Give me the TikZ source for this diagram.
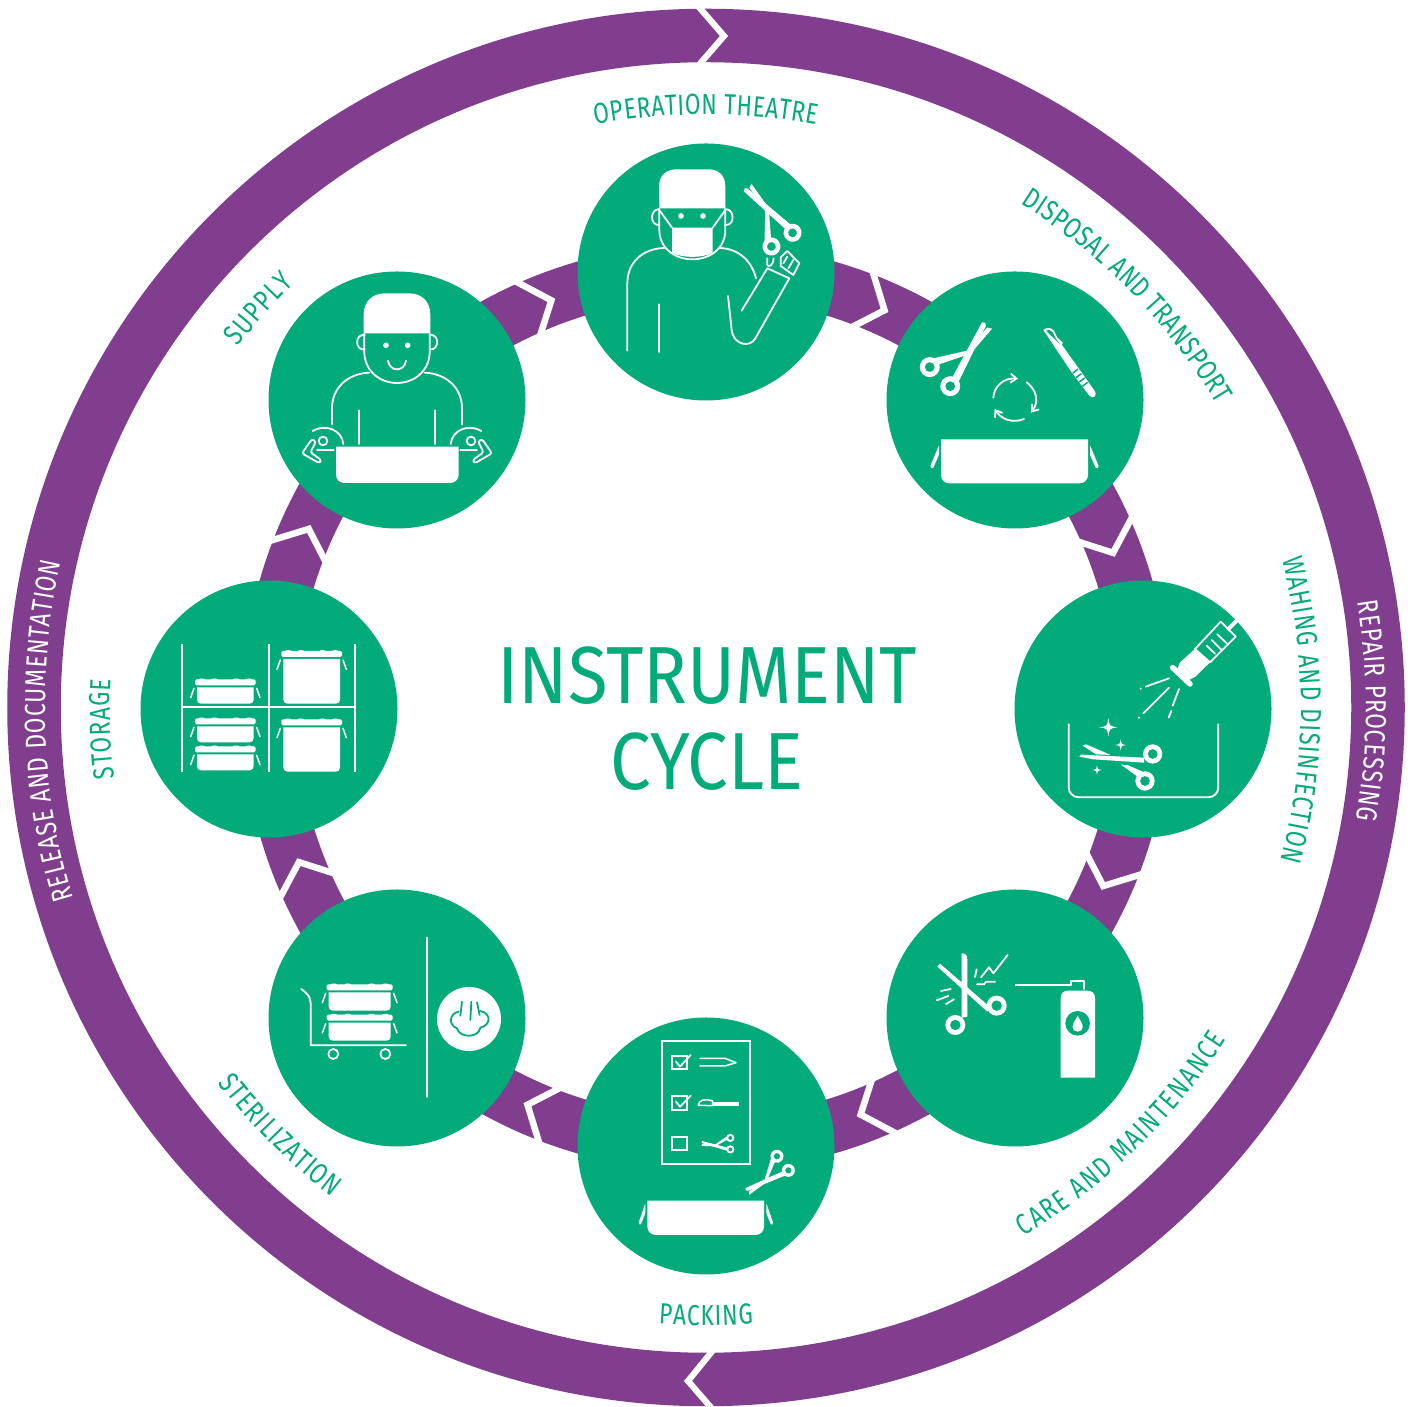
\documentclass[tikz,border=0pt]{standalone}
\usepackage{fontspec}
\usetikzlibrary{decorations.text,arrows.meta}
\newfontfamily\ringfont[FakeStretch=.78]{Fira Sans}
\newfontfamily\titlefont[FakeStretch=.895]{Fira Sans}
\definecolor{cyclegreen}{HTML}{03AA7A}
\definecolor{cyclepurple}{HTML}{813E8F}
\tikzset{
  disc/.style={circle,fill=cyclegreen,minimum size=257pt,inner sep=0pt},
  wl/.style={draw=white,line width=1.8pt,line cap=round,line join=round},
  icon/.style 2 args={shift={(#1,1407-#2)},x=.33333pt,y=-.33333pt},
}
% ring text: clockwise angles from the top
\newcommand\ringtext[5]{%
  \pgfmathsetmacro\ra{90-#1}\pgfmathsetmacro\rd{#1-#2}%
  \path[decorate,decoration={text along path,text color=#4,text align={fit to path},
     text={|\ringfont\fontsize{29pt}{29pt}\selectfont|#5}}]
     (706,699.5) ++(\ra:#3) arc[start angle=\ra,delta angle=\rd,radius=#3];}
% scissors: x y angle scale flip
\newcommand\scis[5]{%
  \begin{scope}[shift={(#1,#2)},rotate=#3,scale=#4,yscale=#5]
    \fill[white,even odd rule] (0,42) circle (30) (0,42) circle (15) (0,-42) circle (30) (0,-42) circle (15);
    \fill[white] (18,-54) -- (18,-30) -- (205,19) -- (211,11) -- (205,3) -- cycle;
    \fill[white] (24,54) -- (20,30) -- (105,-16) -- (112,-6) -- cycle;
    \fill[white] (118,-20) -- (212,-16) -- (204,-3) -- (145,-6) -- cycle;
  \end{scope}}
% container: xc halfwidth ytop ybottom
\newcommand\cont[4]{%
  \fill[white,rounded corners=1.5pt] ({#1-#2},{#3}) rectangle ({#1+#2},{#3+18});
  \foreach \bx in {-.78,-.36,.36,.78}{\fill[white] ({#1+\bx*#2},{#3+1}) ellipse (10 and 3.5);}
  \fill[white] ({#1-#2+6},{#3+24}) -- ({#1+#2-6},{#3+24}) -- ({#1+#2-6},{#4-12}) .. controls ({#1+#2-6},{#4-5}) and ({#1+#2-11},{#4}) .. ({#1+#2-18},{#4}) -- ({#1-#2+18},{#4}) .. controls ({#1-#2+11},{#4}) and ({#1-#2+6},{#4-5}) .. ({#1-#2+6},{#4-12}) -- cycle;
  \draw[wl,line width=1.5pt] ({#1-#2-3},{#3+27}) -- ({#1-#2-13},{#3+55}) ({#1+#2+3},{#3+27}) -- ({#1+#2+13},{#3+55});}
% tray: x1 x2 y1 y2
\newcommand\tray[4]{%
  \fill[white] (#1,#3) -- (#2,#3) -- (#2,{#4-25}) .. controls (#2,{#4-11}) and ({#2-11},#4) .. ({#2-25},#4) -- ({#1+25},#4) .. controls ({#1+11},#4) and (#1,{#4-11}) .. (#1,{#4-25}) -- cycle;}
% tapered clasp: top x, top y, bottom x, bottom y
\newcommand\clasp[4]{%
  \fill[white,rounded corners=1.2pt] (#1,#2) -- (#3,#4) -- ({#3+(#1-#3)*.3},{#4+6}) -- (#1,{#2+30}) -- cycle;}
% sparkle
\newcommand\spark[3]{%
  \fill[white] (#1,{#2-#3}) .. controls ({#1+.12*#3},{#2-.12*#3}) .. ({#1+#3},#2) .. controls ({#1+.12*#3},{#2+.12*#3}) .. (#1,{#2+#3}) .. controls ({#1-.12*#3},{#2+.12*#3}) .. ({#1-#3},#2) .. controls ({#1-.12*#3},{#2-.12*#3}) .. cycle;}
\begin{document}
\begin{tikzpicture}[x=1pt,y=1pt]
\useasboundingbox (0,0) rectangle (1413,1407);
\fill[white] (0,0) rectangle (1413,1407);
% rings
\draw[cyclepurple,line width=53.5pt] (706,699.5) circle (672);
\draw[cyclepurple,line width=54pt] (706,699.5) circle (437);
% outer chevrons
\begin{scope}[icon={0}{0},x=1pt,y=-1pt]
  \draw[white,line width=6.2pt,miter limit=10] (698,6) -- (724,36) -- (698,66);
  \draw[white,line width=6.2pt,miter limit=10] (714,1349) -- (688,1381) -- (714,1411);
\end{scope}
% inner chevrons
\begin{scope}[shift={(706,699.5)}]
\foreach \t in {22.5,67.5,...,337.5}{
  \draw[white,line width=6.5pt,miter limit=10] ({90-\t+1.7}:468) -- ({90-\t-1.7}:435.5) -- ({90-\t+1.7}:406);
}
\end{scope}
% discs
\node[disc] (theatre) at (706,1135) {};
\node[disc] (disposal) at (1015,1007) {};
\node[disc] (washing) at (1143,698) {};
\node[disc] (care) at (1015,389) {};
\node[disc] (packing) at (706,261) {};
\node[disc] (steril) at (397,389) {};
\node[disc] (storage) at (269,698) {};
\node[disc] (supply) at (397,1007) {};
% title
\node[anchor=base,inner sep=0pt,text=cyclegreen,font=\titlefont\fontsize{81pt}{81pt}\selectfont] (title1) at (707.5,703) {INSTRUMENT};
\node[anchor=base,inner sep=0pt,text=cyclegreen,font=\titlefont\fontsize{81pt}{81pt}\selectfont] (title2) at (707,617) {CYCLE};
% ring labels
\ringtext{-10.7}{10.7}{593}{cyclegreen}{OPERATION THEATRE}
\ringtext{32}{59.3}{594}{cyclegreen}{DISPOSAL AND TRANSPORT}
\ringtext{75.6}{104.9}{595}{cyclegreen}{WAHING AND DISINFECTION}
\ringtext{149}{122.6}{617}{cyclegreen}{CARE AND MAINTENANCE}
\ringtext{184.4}{175.6}{618}{cyclegreen}{PACKING}
\ringtext{232.4}{217.4}{616}{cyclegreen}{STERILIZATION}
\ringtext{263.2}{272.7}{596}{cyclegreen}{STORAGE}
\ringtext{-52.4}{-44.2}{591}{cyclegreen}{SUPPLY}
\ringtext{80.8}{99.8}{660}{white}{REPAIR PROCESSING}
\ringtext{253.2}{282.7}{661}{white}{RELEASE AND DOCUMENTATION}
% ---------- operation theatre
\begin{scope}[icon={570}{140}]
  \fill[white] (268,205) -- (267,140) .. controls (267,105) and (290,88) .. (320,88) -- (415,88) .. controls (445,88) and (466,105) .. (466,140) -- (466,205) -- cycle;
  \draw[wl] (268,208) .. controls (240,205) and (238,258) .. (268,255);
  \draw[wl] (466,208) .. controls (494,205) and (496,258) .. (466,255);
  \draw[wl] (268,205) -- (268,270) .. controls (268,325) and (315,358) .. (367,358) .. controls (420,358) and (466,325) .. (466,270) -- (466,205);
  \fill[white] (333,228) circle (8.5) (399,228) circle (8.5);
  \fill[white] (306,263) -- (428,263) -- (428,337) .. controls (405,355) and (330,355) .. (306,337) -- cycle;
  \draw[wl] (270,213) -- (306,263) (464,213) -- (428,263);
  \draw[wl] (283,324) .. controls (215,326) and (172,370) .. (172,430) -- (172,632);
  \draw[wl] (450,324) .. controls (505,326) and (545,362) .. (558,415);
  \draw[wl] (268,493) -- (268,636);
  \draw[wl] (474,468) -- (485,570) .. controls (490,615) and (540,625) .. (556,595) -- (658,415) -- (592,385) -- (515,512);
  \draw[wl] (592,355) -- (592,375) .. controls (595,380) and (608,382) .. (611,355);
  \scis{636}{299}{123}{.9}{-1}
  \draw[wl,fill=cyclegreen] (632,352) -- (652,333) -- (688,370) -- (670,405) -- (632,378) -- cycle;
  \draw[wl] (652,350) -- (640,370) (670,360) -- (655,385);
\end{scope}
% ---------- disposal
\begin{scope}[icon={880}{265}]
  \scis{180}{335}{47}{1}{-1}
  \draw[wl,-{Straight Barb[length=6pt,width=9pt]}] (340,398) .. controls (342,365) and (370,338) .. (414,341);
  \draw[wl,-{Straight Barb[length=6pt,width=9pt]}] (440,352) .. controls (470,375) and (478,410) .. (453,443);
  \draw[wl,-{Straight Barb[length=6pt,width=9pt]}] (432,462) .. controls (400,475) and (365,465) .. (344,432);
  \fill[white] (490,195) .. controls (500,185) and (515,188) .. (522,198) -- (532,218) -- (548,232) -- (546,240) -- (642,375) .. controls (655,392) and (640,405) .. (628,392) -- (575,322) -- cycle;
  \fill[cyclegreen] (498,197) .. controls (505,192) and (513,195) .. (518,202) -- (528,222) -- (540,238) -- cycle;
  \draw[cyclegreen,line width=1.5pt] (594,312) -- (578,325) (604,326) -- (588,338) (614,339) -- (598,351) (623,352) -- (607,364);
  \tray{183}{624}{523}{655}
  \clasp{177}{540}{150}{606}
  \clasp{630}{540}{657}{606}
\end{scope}
% ---------- washing
\begin{scope}[icon={1010}{575}]
  \draw[white,line width=4pt] (652,165) -- (682,135);
  \draw[wl] (632,140) -- (677,185) -- (600,262) -- (555,222) -- cycle;
  \fill[white] (555,222) -- (598,264) -- (555,306) -- (510,262) -- cycle;
  \fill[white] (510,262) -- (555,306) -- (530,318) -- (500,288) -- cycle;
  \draw[white,line width=5.5pt,line cap=round] (488,278) -- (540,327);
  \draw[wl] (590,212) -- (615,236) (605,195) -- (634,224) (622,178) -- (650,205);
  \draw[wl] (407,335) -- (477,310) (400,415) -- (477,338) (488,392) -- (507,342) (476,428) -- (484,408);
  \fill[white] (392,341) circle (3.5) (387,428) circle (3.5);
  \spark{295}{457}{28}\spark{332}{510}{17}\spark{261}{585}{15}
  \draw[wl,rounded corners=10pt] (176,448) -- (176,667) -- (625,667) -- (625,448);
  \fill[white,even odd rule] (428,537) circle (29) (428,537) circle (15) (405,618) circle (29) (405,618) circle (15);
  \fill[white] (208,545) -- (213,539) -- (402,548) -- (402,563) -- (250,553) -- cycle;
  \fill[white] (218,512) -- (228,508) -- (302,540) -- (258,538) -- cycle;
  \fill[white] (333,569) -- (352,570) -- (398,590) -- (384,606) -- cycle;
\end{scope}
% ---------- care
\begin{scope}[icon={880}{885}]
  \fill[white,even odd rule] (226,420) circle (30) (226,420) circle (16) (350,362) circle (30) (350,362) circle (16);
  \fill[white] (245,205) .. controls (258,205) and (262,212) .. (262,225) -- (262,395) -- (245,398) -- cycle;
  \fill[white] (172,245) -- (180,236) -- (332,368) -- (322,380) -- cycle;
  \draw[wl] (183,318) -- (212,312) (170,346) -- (205,333) (198,357) -- (222,343) (285,276) -- (290,253);
  \draw[wl] (303,277) -- (327,247) -- (340,265) -- (383,210);
  \draw[wl] (291,298) -- (312,298) -- (318,290) -- (345,290);
  \draw[wl] (407,299) -- (573,299);
  \draw[wl] (573,299) -- (573,287) -- (613,287) -- (613,312);
  \fill[white] (542,578) -- (542,340) .. controls (542,325) and (550,317) .. (565,317) -- (622,317) .. controls (637,317) and (645,325) .. (645,340) -- (645,578) -- cycle;
  \fill[cyclegreen] (593,415) circle (37);
  \fill[white] (593,392) .. controls (585,408) and (578,415) .. (578,425) .. controls (578,445) and (608,445) .. (608,425) .. controls (608,415) and (601,408) .. (593,392) -- cycle;
\end{scope}
% ---------- packing
\begin{scope}[icon={570}{1015}]
  \draw[wl,line cap=butt,line join=miter] (276,78) rectangle (541,447);
  \draw[wl,line cap=butt,line join=miter] (307,122) rectangle (350,163) (307,243) rectangle (350,285) (307,365) rectangle (350,406);
  \draw[wl] (318,140) -- (330,155) -- (362,120) (318,260) -- (330,275) -- (362,242);
  \draw[wl,line width=1.5pt] (390,130) -- (465,130) -- (498,143) -- (465,153) -- (390,153);
  \draw[wl,line width=1.5pt] (385,271) .. controls (385,255) and (405,250) .. (428,258) -- (428,272) -- cycle;
  \fill[white] (428,260) -- (508,260) -- (508,272) -- (428,272) -- cycle;
  \scis{481}{386}{180}{.41}{1}
  \scis{638}{445}{219}{.65}{1}
  \tray{232}{582}{557}{660}
  \clasp{226}{565}{205}{625}
  \clasp{589}{565}{610}{625}
\end{scope}
% ---------- sterilization
\begin{scope}[icon={262}{885}]
  \draw[wl] (496,158) -- (496,636);
  \fill[white] (621,402) circle (96);
  \draw[cyclegreen,line width=1.8pt,line cap=round] (600,350) -- (595,392) (628,350) -- (625,405) (645,352) -- (653,390);
  \draw[cyclegreen,line width=1.8pt,line cap=round] (590,380) .. controls (562,385) and (558,420) .. (585,430) .. controls (592,460) and (650,460) .. (655,428) .. controls (688,420) and (688,385) .. (655,378);
  \draw[wl] (118,312) .. controls (135,325) and (146,335) .. (146,355) -- (146,481) -- (432,481);
  \draw[wl] (214,507) circle (15) (370,507) circle (15);
  \cont{293}{99}{298}{377}
  \cont{293}{99}{389}{467}
\end{scope}
% ---------- storage
\begin{scope}[icon={135}{575}]
  \draw[wl,line cap=butt] (141,208) -- (141,590) (401,208) -- (401,590) (660,208) -- (660,590) (141,395) -- (660,395);
  \cont{271}{91}{313}{386}
  \cont{271}{91}{430}{502}
  \cont{271}{91}{514}{586}
  \cont{530}{91}{228}{386}
  \cont{530}{91}{433}{590}
\end{scope}
% ---------- supply
\begin{scope}[icon={262}{265}]
  \fill[white] (305,205) -- (305,150) .. controls (305,110) and (330,85) .. (370,85) -- (440,85) .. controls (480,85) and (505,110) .. (505,150) -- (505,205) -- cycle;
  \draw[wl] (308,210) .. controls (278,205) and (278,258) .. (308,253);
  \draw[wl] (503,210) .. controls (533,205) and (533,258) .. (503,253);
  \draw[wl] (307,205) -- (307,265) .. controls (310,320) and (355,354) .. (405,354) .. controls (455,354) and (500,320) .. (503,265) -- (503,205);
  \fill[white] (372,241) circle (8.5) (437,241) circle (8.5);
  \draw[wl] (378,287) .. controls (383,322) and (427,322) .. (432,287);
  \draw[wl] (322,323) .. controls (255,326) and (210,370) .. (210,430) -- (210,478);
  \draw[wl] (488,323) .. controls (555,326) and (600,370) .. (600,430) -- (600,478);
  \draw[wl] (290,436) -- (290,537) (519,436) -- (519,537);
  \draw[wl] (152,498) .. controls (190,475) and (240,495) .. (244,537);
  \draw[wl] (183,528) circle (13);
  \draw[wl] (165,556) -- (215,556);
  \draw[wl,rounded corners=2.5pt] (150,522) -- (120,565) -- (172,595) -- (178,585) -- (145,562) -- (162,530) -- cycle;
  \begin{scope}[shift={(810,0)},xscale=-1]
    \draw[wl] (152,498) .. controls (190,475) and (240,495) .. (244,537);
    \draw[wl] (183,528) circle (13);
    \draw[wl] (165,556) -- (215,556);
    \draw[wl,rounded corners=2.5pt] (150,522) -- (120,565) -- (172,595) -- (178,585) -- (145,562) -- (162,530) -- cycle;
  \end{scope}
  \tray{222}{590}{545}{654}
\end{scope}
\end{tikzpicture}
\end{document}
